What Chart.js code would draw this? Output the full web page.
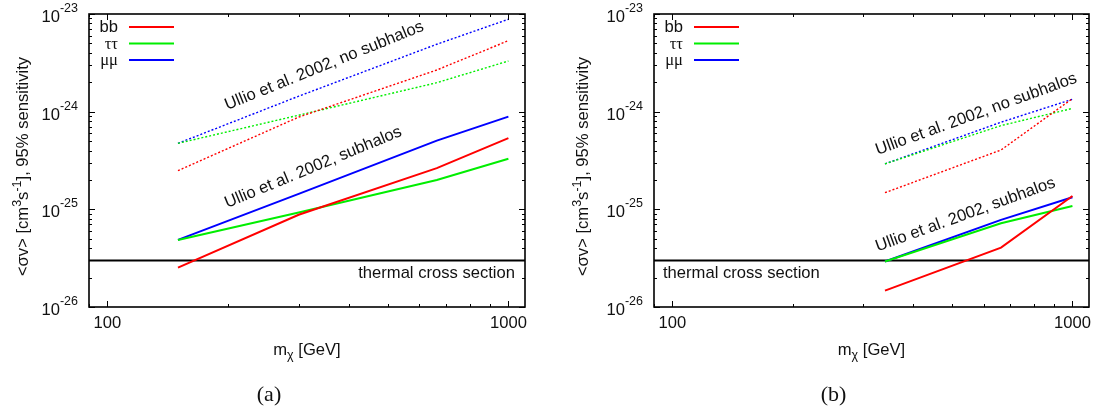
<!DOCTYPE html>
<html lang="en">
<head>
<meta charset="UTF-8" />
<title>Annihilation cross section sensitivity</title>
<script src="https://cdn.jsdelivr.net/npm/chart.js"></script>
<style>
  body { margin: 0; background: #ffffff; }
  .wrap { position: relative; width: 1099px; height: 410px; }
  canvas { position: absolute; top: 0; }
  #panelA { left: 0; }
  #panelB { left: 550px; }
</style>
</head>
<body>
<div class="wrap">
  <canvas id="panelA" width="550" height="410"></canvas>
  <canvas id="panelB" width="549" height="410"></canvas>
</div>
<script>
// axes
const xRange = [90, 1100];
const yRange = [1e-26, 1e-23];
const xMajorTicks = [100, 1000];
const xTickLabels = ['100', '1000'];
const yMajorTicks = [1e-26, 1e-25, 1e-24, 1e-23];
const yTickExponents = ['-26', '-25', '-24', '-23'];
const thermalXS = 3e-26;

const channels = ['bb', 'ττ', 'μμ'];
const channelColors = ['#ff0000', '#00ee00', '#0000ff'];

// panel (a)
const massA = [150, 300, 663, 1000];
const bbSubA = [2.53e-26, 8.8e-26, 2.64e-25, 5.35e-25];
const ttSubA = [4.86e-26, 9.3e-26, 2.0e-25, 3.3e-25];
const mmSubA = [4.86e-26, 1.44e-25, 5.05e-25, 8.89e-25];
const bbNoSubA = [2.49e-25, 8.8e-25, 2.67e-24, 5.33e-24];
const ttNoSubA = [4.74e-25, 9.2e-25, 1.98e-24, 3.3e-24];
const mmNoSubA = [4.74e-25, 1.44e-24, 4.9e-24, 8.83e-24];

// panel (b)
const massB = [340, 663, 1000];
const bbSubB = [1.47e-26, 4.05e-26, 1.37e-25];
const ttSubB = [2.92e-26, 7.2e-26, 1.08e-25];
const mmSubB = [2.92e-26, 7.8e-26, 1.33e-25];
const bbNoSubB = [1.48e-25, 4.05e-25, 1.36e-24];
const ttNoSubB = [2.92e-25, 7.2e-25, 1.08e-24];
const mmNoSubB = [2.92e-25, 7.8e-25, 1.34e-24];

const SANS = '"Liberation Sans", Arial, sans-serif';
const SERIF = '"Liberation Serif", "DejaVu Serif", serif';
const FS = 16.6;
const FS_SMALL = 12.5;

function series(mass, vals, color, dotted) {
  return {
    data: mass.map((m, i) => ({ x: m, y: vals[i] })),
    borderColor: color,
    borderWidth: dotted ? 1.4 : 2,
    borderDash: dotted ? [2, 2] : [],
    pointRadius: 0,
    tension: 0,
    fill: false
  };
}

// draws text made of runs, some raised or lowered
function richText(ctx, runs, x, y, align) {
  const widths = runs.map(r => { ctx.font = r.size + 'px ' + (r.family || SANS); return ctx.measureText(r.t).width; });
  const total = widths.reduce((a, b) => a + b, 0);
  let cx = align === 'right' ? x - total : align === 'center' ? x - total / 2 : x;
  ctx.textAlign = 'left';
  ctx.textBaseline = 'alphabetic';
  runs.forEach((r, i) => {
    ctx.font = r.size + 'px ' + (r.family || SANS);
    ctx.fillText(r.t, cx, y + (r.dy || 0));
    cx += widths[i];
  });
}

function decorations(panel) {
  return {
    id: 'decor',
    afterDatasetsDraw(chart) {
      const ctx = chart.ctx;
      const a = chart.chartArea;
      const xs = chart.scales.x, ys = chart.scales.y;
      ctx.save();
      ctx.fillStyle = '#000';
      ctx.strokeStyle = '#000';

      // ticks, mirrored on all sides
      ctx.lineWidth = 1;
      ctx.beginPath();
      for (let d = 10; d <= 1000; d *= 10) {
        for (let k = 1; k <= 9; k++) {
          const v = d * k;
          if (v < xRange[0] || v > xRange[1]) continue;
          const px = Math.round(xs.getPixelForValue(v)) + 0.5;
          const len = k === 1 ? 6 : 3;
          ctx.moveTo(px, a.bottom); ctx.lineTo(px, a.bottom - len);
          ctx.moveTo(px, a.top); ctx.lineTo(px, a.top + len);
        }
      }
      for (let d = 1e-26; d <= 1.01e-23; d *= 10) {
        for (let k = 1; k <= 9; k++) {
          const v = d * k;
          if (v > yRange[1] * 1.001) continue;
          const py = Math.round(ys.getPixelForValue(v)) + 0.5;
          const len = k === 1 ? 6 : 3;
          ctx.moveTo(a.left, py); ctx.lineTo(a.left + len, py);
          ctx.moveTo(a.right, py); ctx.lineTo(a.right - len, py);
        }
      }
      ctx.stroke();

      // frame
      ctx.lineWidth = 1.6;
      ctx.strokeRect(a.left, a.top, a.right - a.left, a.bottom - a.top);

      // tick labels
      ctx.fillStyle = '#111';
      xMajorTicks.forEach((v, i) => {
        richText(ctx, [{ t: xTickLabels[i], size: FS }], xs.getPixelForValue(v), a.bottom + 21, 'center');
      });
      yMajorTicks.forEach((v, i) => {
        const py = ys.getPixelForValue(v);
        richText(ctx, [{ t: '10', size: FS, dy: 8 }, { t: yTickExponents[i], size: FS_SMALL, dy: -2 }], a.left - 11, py, 'right');
      });

      // axis titles
      richText(ctx, [{ t: 'm', size: FS }, { t: 'χ', size: FS_SMALL, dy: 4 }, { t: ' [GeV]', size: FS }],
        (a.left + a.right) / 2, a.bottom + 48, 'center');
      ctx.save();
      ctx.translate(panel.yTitleX, (a.top + a.bottom) / 2 + 6);
      ctx.rotate(-Math.PI / 2);
      richText(ctx, [
        { t: '<σv> [cm', size: FS }, { t: '3', size: FS_SMALL, dy: -7 }, { t: 's', size: FS },
        { t: '-1', size: FS_SMALL, dy: -7 }, { t: '], 95% sensitivity', size: FS }
      ], 0, 0, 'center');
      ctx.restore();

      // legend
      channels.forEach((name, i) => {
        const ly = a.top + 13 + i * 16.5;
        richText(ctx, [{ t: name, size: FS, family: i === 0 ? SANS : SERIF }], a.left + 29, ly + 5, 'right');
        ctx.strokeStyle = channelColors[i];
        ctx.lineWidth = 2;
        ctx.beginPath();
        ctx.moveTo(a.left + 40, ly); ctx.lineTo(a.left + 85, ly);
        ctx.stroke();
      });

      // thermal label
      const ty = ys.getPixelForValue(thermalXS) + 18;
      if (panel.thermalAlign === 'right') richText(ctx, [{ t: 'thermal cross section', size: FS }], a.right - 10, ty, 'right');
      else richText(ctx, [{ t: 'thermal cross section', size: FS }], a.left + 9, ty, 'left');

      // curve notes
      panel.notes.forEach(n => {
        ctx.save();
        ctx.translate(xs.getPixelForValue(n.x), ys.getPixelForValue(n.y));
        ctx.rotate(-n.angle * Math.PI / 180);
        richText(ctx, [{ t: n.text, size: FS }], 0, 0, 'left');
        ctx.restore();
      });

      // panel tag
      richText(ctx, [{ t: panel.tag, size: 22, family: SERIF }], (a.left + a.right) / 2 - 38, 401, 'center');
      ctx.restore();
    }
  };
}

const panels = [
  {
    id: 'panelA', padLeft: 89, padRight: 25, yTitleX: 28, tag: '(a)', thermalAlign: 'right',
    mass: massA,
    sub: [bbSubA, ttSubA, mmSubA], noSub: [bbNoSubA, ttNoSubA, mmNoSubA],
    notes: [
      { text: 'Ullio et al. 2002, no subhalos', x: 199, y: 1.04e-24, angle: 22 },
      { text: 'Ullio et al. 2002, subhalos', x: 199, y: 1.03e-25, angle: 22.5 }
    ]
  },
  {
    id: 'panelB', padLeft: 104, padRight: 10, yTitleX: 38, tag: '(b)', thermalAlign: 'left',
    mass: massB,
    sub: [bbSubB, ttSubB, mmSubB], noSub: [bbNoSubB, ttNoSubB, mmNoSubB],
    notes: [
      { text: 'Ullio et al. 2002, no subhalos', x: 326, y: 3.6e-25, angle: 20 },
      { text: 'Ullio et al. 2002, subhalos', x: 326, y: 3.69e-26, angle: 20 }
    ]
  }
];

panels.forEach(p => {
  const datasets = [];
  p.noSub.forEach((vals, i) => datasets.push(series(p.mass, vals, channelColors[i], true)));
  p.sub.forEach((vals, i) => datasets.push(series(p.mass, vals, channelColors[i], false)));
  datasets.push(series(xRange, [thermalXS, thermalXS], '#000000', false));

  new Chart(document.getElementById(p.id), {
    type: 'line',
    data: { datasets },
    options: {
      responsive: false,
      animation: false,
      devicePixelRatio: 1,
      layout: { padding: { left: p.padLeft, right: p.padRight, top: 14, bottom: 103 } },
      scales: {
        x: { type: 'logarithmic', min: xRange[0], max: xRange[1], display: false },
        y: { type: 'logarithmic', min: yRange[0], max: yRange[1], display: false }
      },
      plugins: { legend: { display: false }, tooltip: { enabled: false } }
    },
    plugins: [decorations(p)]
  });
});
</script>
</body>
</html>
